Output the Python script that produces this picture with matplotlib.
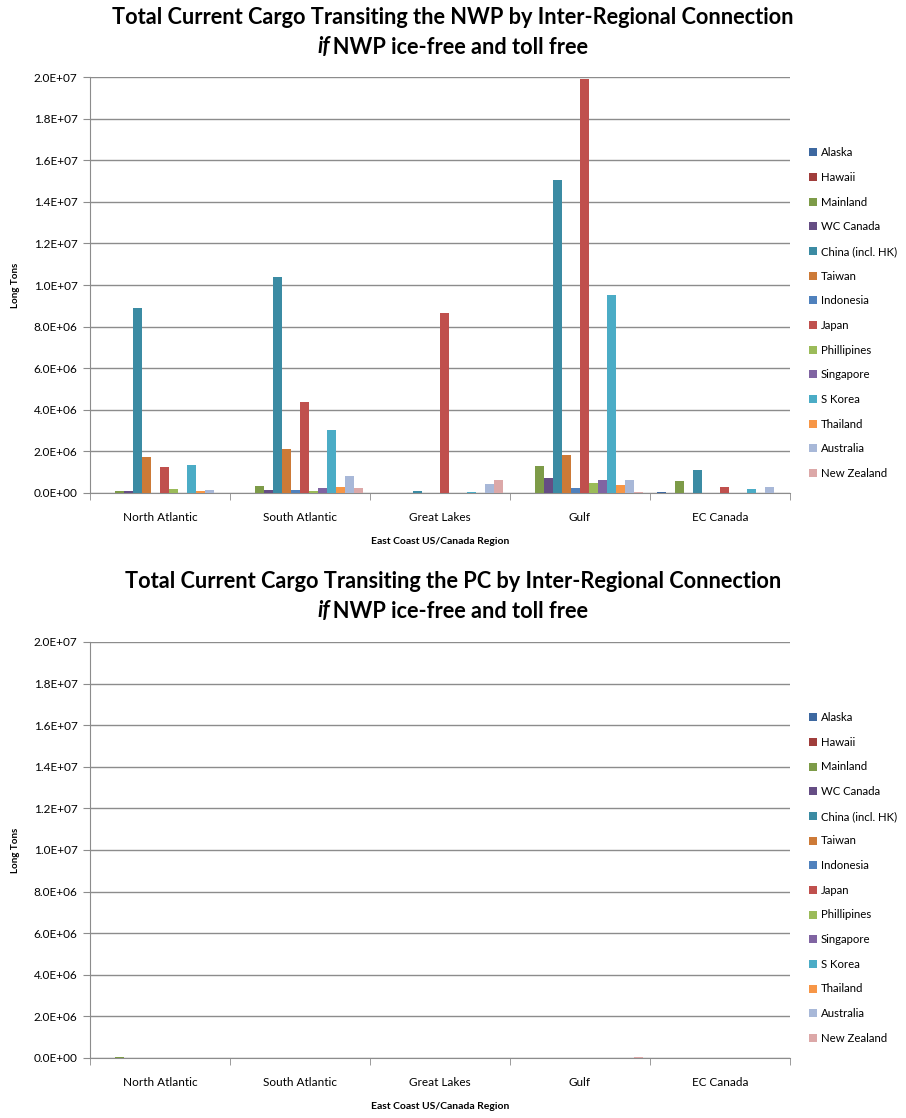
import numpy as np
import matplotlib
matplotlib.use("Agg")
from matplotlib import pyplot as plt
from matplotlib.ticker import FuncFormatter, MultipleLocator, FixedLocator

plt.rcParams['font.family'] = ['Lato', 'DejaVu Sans']

regions = ['North Atlantic', 'South Atlantic', 'Great Lakes', 'Gulf', 'EC Canada']
origins = ['Alaska', 'Hawaii', 'Mainland', 'WC Canada', 'China (incl. HK)', 'Taiwan',
           'Indonesia', 'Japan', 'Phillipines', 'Singapore', 'S Korea', 'Thailand',
           'Australia', 'New Zealand']
colors = ['#3D68A0', '#A03D3B', '#7D9B48', '#654D84', '#3B8BA3', '#CD7A37',
          '#4F81BD', '#C0504D', '#9BBB59', '#8064A2', '#4BACC6', '#F79646',
          '#A8B8D8', '#DCA8A8']

# long tons per origin, one row per east coast region (NWP routing)
nwp_tons = np.array([
    [0.00, 0.00, 0.08, 0.08, 8.88, 1.75, 0.00, 1.25, 0.19, 0.00, 1.35, 0.08, 0.13, 0.00],
    [0.00, 0.00, 0.33, 0.13, 10.37, 2.10, 0.13, 4.39, 0.12, 0.22, 3.03, 0.29, 0.82, 0.23],
    [0.00, 0.00, 0.00, 0.00, 0.08, 0.00, 0.00, 8.67, 0.00, 0.00, 0.07, 0.00, 0.42, 0.62],
    [0.00, 0.00, 1.30, 0.72, 15.05, 1.84, 0.22, 19.90, 0.46, 0.61, 9.50, 0.37, 0.61, 0.07],
    [0.07, 0.00, 0.56, 0.00, 1.10, 0.00, 0.00, 0.27, 0.00, 0.00, 0.18, 0.00, 0.27, 0.00],
]) * 1e6

# same connections still routed through the Panama Canal
pc_tons = np.array([
    [0.00, 0.00, 0.07, 0.00, 0.00, 0.00, 0.00, 0.00, 0.00, 0.00, 0.00, 0.00, 0.00, 0.00],
    [0.00, 0.00, 0.00, 0.00, 0.00, 0.00, 0.00, 0.00, 0.00, 0.00, 0.00, 0.00, 0.00, 0.00],
    [0.00, 0.00, 0.00, 0.00, 0.00, 0.00, 0.00, 0.00, 0.00, 0.00, 0.00, 0.00, 0.00, 0.00],
    [0.00, 0.00, 0.00, 0.00, 0.00, 0.00, 0.00, 0.00, 0.00, 0.00, 0.00, 0.00, 0.00, 0.05],
    [0.00, 0.00, 0.00, 0.00, 0.00, 0.00, 0.00, 0.00, 0.00, 0.00, 0.00, 0.00, 0.00, 0.00],
]) * 1e6

W, H = 906, 1118
fig = plt.figure(figsize=(W / 100, H / 100), dpi=100)
grid_col = '#8C8C8C'


def fx(px):
    return px / W


def fy(py):
    return 1 - py / H


def title(line1, y1, y2):
    size = 15.7
    fig.text(0.5, fy(y1), line1, ha='center', va='center', fontsize=size, fontweight='bold')
    r = fig.canvas.get_renderer()
    t_if = fig.text(0, fy(y2), 'if', ha='left', va='center', fontsize=size,
                    fontweight='bold', style='italic')
    t_rest = fig.text(0, fy(y2), '\u2009NWP ice-free and toll free', ha='left', va='center',
                      fontsize=size, fontweight='bold')
    w1 = t_if.get_window_extent(r).width
    w2 = t_rest.get_window_extent(r).width
    x0 = (W - w1 - w2) / 2
    t_if.set_x(fx(x0))
    t_rest.set_x(fx(x0 + w1))


def panel(top_px, data):
    ax = fig.add_axes([fx(90), fy(top_px + 416), fx(700), 416 / H])
    n = len(origins)
    bw = 0.9 / n
    x = np.arange(len(regions))
    handles = []
    for i, name in enumerate(origins):
        b = ax.bar(x - 0.45 + bw * (i + 0.5), data[:, i], width=bw, color=colors[i],
                   label=name, zorder=3, linewidth=0)
        handles.append(b)
    ax.set_xlim(-0.5, len(regions) - 0.5)
    ax.set_ylim(0, 2e7)
    ax.yaxis.set_major_locator(MultipleLocator(2e6))
    ax.yaxis.set_major_formatter(FuncFormatter(lambda v, p: f"{v:.1E}"))
    ax.yaxis.grid(True, color=grid_col, linewidth=1, zorder=0)
    ax.set_xticks(x)
    ax.set_xticklabels(regions, fontsize=8.5)
    ax.xaxis.set_minor_locator(FixedLocator(np.arange(-0.5, len(regions), 1.0)))
    ax.tick_params(axis='x', which='major', length=0, pad=14)
    ax.tick_params(axis='x', which='minor', length=5, color=grid_col, direction='out')
    ax.tick_params(axis='y', length=5, color=grid_col, labelsize=8.5, pad=4)
    for s in ['top', 'right']:
        ax.spines[s].set_visible(False)
    for s in ['left', 'bottom']:
        ax.spines[s].set_color(grid_col)
    ax.set_xlabel('East Coast US/Canada Region', fontsize=7.5, fontweight='bold', labelpad=10)
    ax.set_ylabel('Long Tons', fontsize=7, fontweight='bold', labelpad=10)
    ax.legend(handles=handles, loc='center left', frameon=False, fontsize=8.2,
              bbox_to_anchor=(fx(801), fy(top_px + 236)), bbox_transform=fig.transFigure,
              handlelength=0.7, handleheight=0.7, handletextpad=0.35, labelspacing=1.2,
              borderpad=0.2)
    return ax


title('Total Current Cargo Transiting the NWP by Inter-Regional Connection', 17, 47)
panel(77, nwp_tons)
title('Total Current Cargo Transiting the PC by Inter-Regional Connection', 582, 611)
panel(642, pc_tons)

fig.savefig('out.png', dpi=100)
